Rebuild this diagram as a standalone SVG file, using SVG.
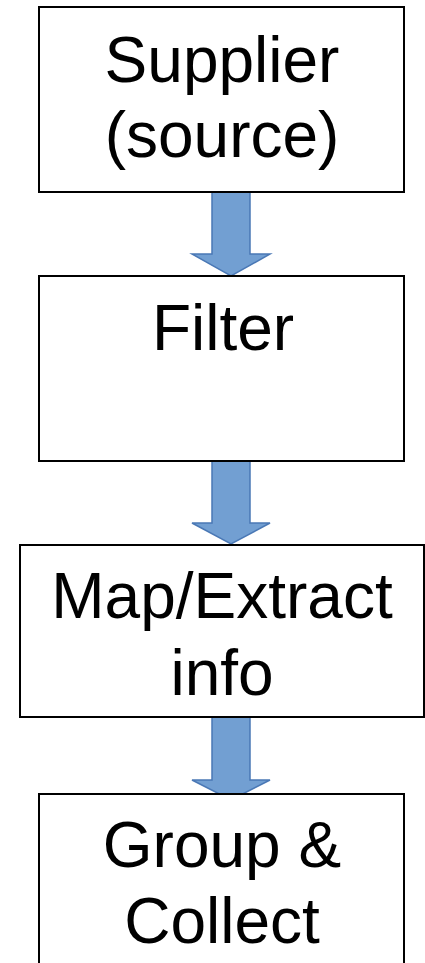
<svg xmlns="http://www.w3.org/2000/svg" width="425" height="963" viewBox="0 0 425 963">
<style>
.box{fill:#fff;stroke:#000;stroke-width:2}
.lbl{font-family:"Liberation Sans",Arial,sans-serif;font-size:64px;fill:#000;text-anchor:middle}
.arr{fill:#729FD2;stroke:#4A78B5;stroke-width:1.5;stroke-linejoin:miter}
</style>
<rect width="425" height="963" fill="#fff"/>
<g id="connectors">
<path class="arr" d="M212,192 H250 V254 H270 L231,276 L192,254 H212 Z"/>
<path class="arr" d="M212,461 H250 V523 H270 L231,544 L192,523 H212 Z"/>
<path class="arr" d="M212,717 H250 V780 H270 L231,800 L192,780 H212 Z"/>
</g>
<g id="supplier">
<rect class="box" x="39" y="7" width="365" height="185"/>
<text class="lbl" x="222" y="82">Supplier</text>
<text class="lbl" x="222" y="157">(source)</text>
</g>
<g id="filter">
<rect class="box" x="39" y="276" width="365" height="185"/>
<text class="lbl" x="223" y="350">Filter</text>
</g>
<g id="map">
<rect class="box" x="20" y="545" width="404" height="172"/>
<text class="lbl" x="222" y="618">Map/Extract</text>
<text class="lbl" x="222" y="695">info</text>
</g>
<g id="group">
<rect class="box" x="39" y="794" width="365" height="185"/>
<text class="lbl" x="222" y="867">Group &amp;</text>
<text class="lbl" x="222" y="943">Collect</text>
</g>
</svg>
